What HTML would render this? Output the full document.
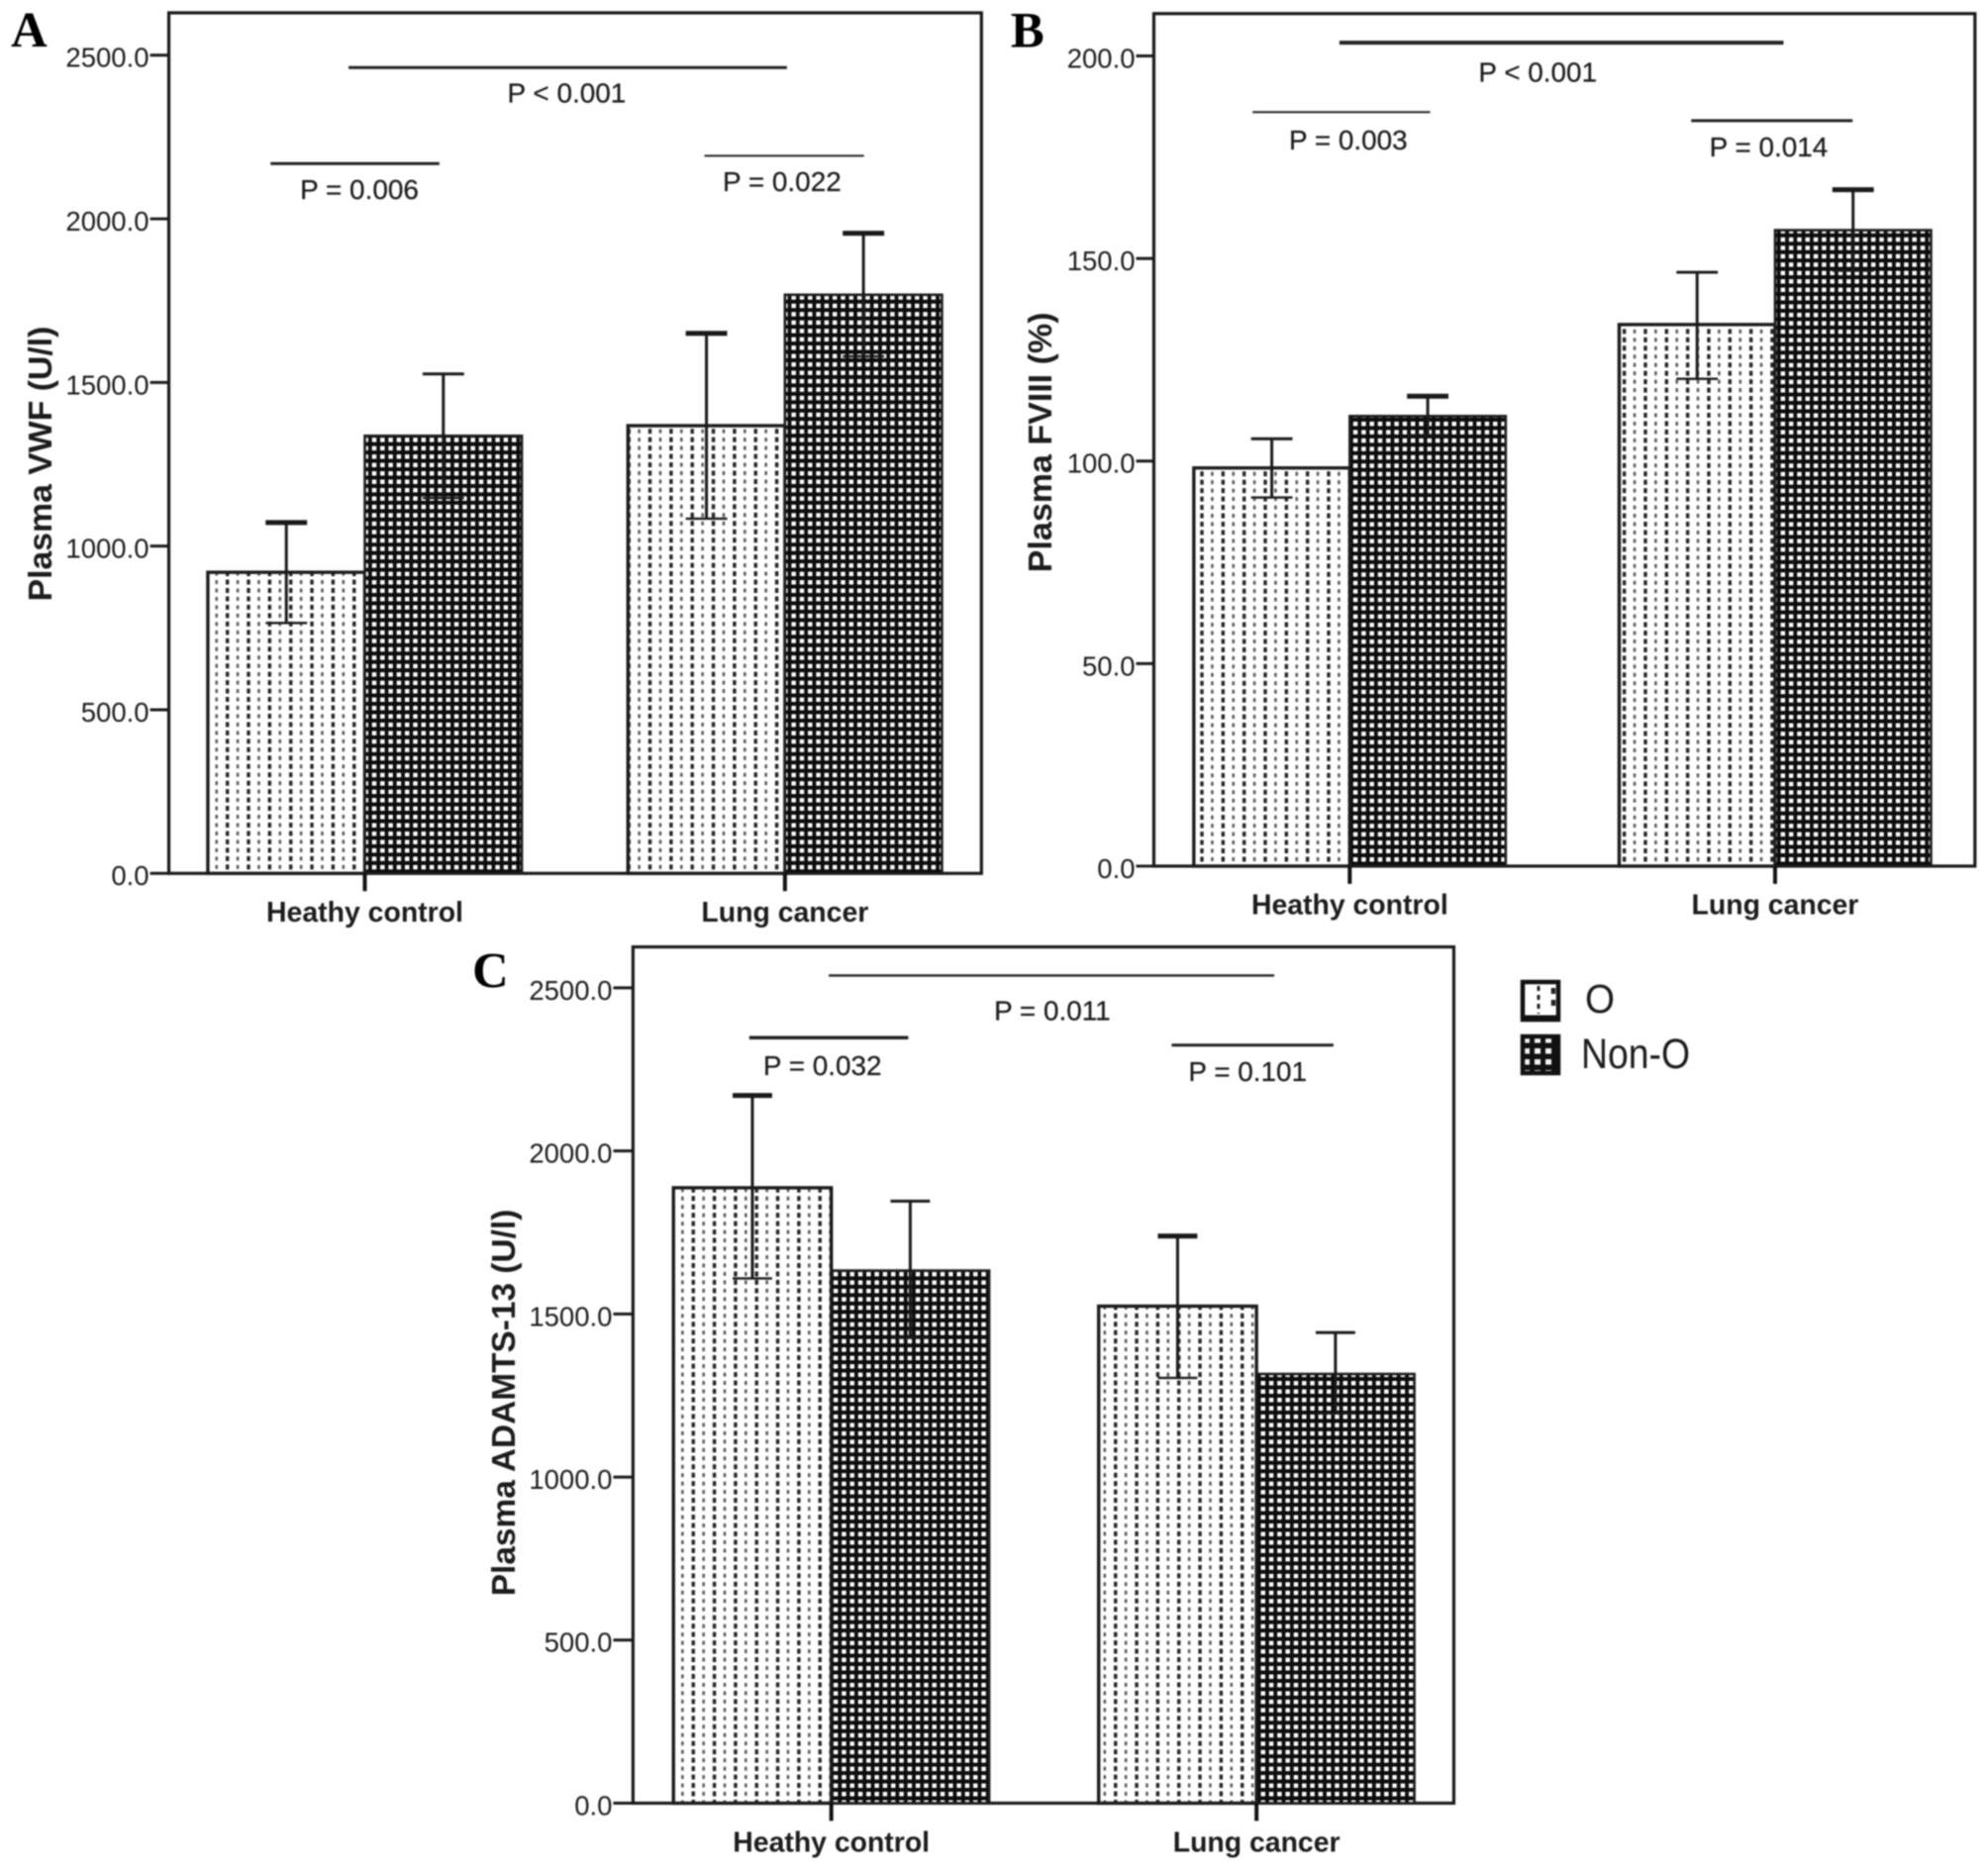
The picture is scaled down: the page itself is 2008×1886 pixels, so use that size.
<!DOCTYPE html>
<html lang="en">
<head>
<meta charset="utf-8">
<title>Plasma VWF, FVIII and ADAMTS-13 by blood group</title>
<style>
html,body{margin:0;padding:0;background:#fff;width:2008px;height:1886px;overflow:hidden}
#figure{display:block;filter:blur(0.8px)}
text{font-family:"Liberation Sans",sans-serif;fill:#1c1c1c}
.tick-label{font-size:27.6px}
.cat-label{font-size:28.5px;font-weight:700}
.y-title{font-size:33px;font-weight:700;text-anchor:middle}
.p-label{font-size:28px;text-anchor:middle;stroke:#1c1c1c;stroke-width:0.25px}
.panel-letter{font-family:"Liberation Serif",serif;font-size:51px;font-weight:700;fill:#000}
.frame{fill:none;stroke:#1a1a1a;stroke-width:3.2}
.sig-line{stroke:#222;stroke-width:3}
</style>
</head>
<body>
<svg id="figure" xmlns="http://www.w3.org/2000/svg" width="2008" height="1886" viewBox="0 0 2008 1886">
  <defs>
    <pattern id="pattern-o" patternUnits="userSpaceOnUse" width="21.4" height="8.5">
      <rect width="21.4" height="8.5" fill="#fff"/>
      <rect x="4.1" y="2" width="2.5" height="4" fill="#555"/>
      <rect x="14.6" y="1.5" width="3.4" height="5" fill="#222"/>
    </pattern>
    <pattern id="pattern-non-o" patternUnits="userSpaceOnUse" width="8.33" height="8.5">
      <rect width="8.33" height="8.5" fill="#0c0c0c"/>
      <rect x="1.9" y="2" width="4.5" height="4.5" fill="#fff"/>
    </pattern>
    <pattern id="pattern-legend-non-o" patternUnits="userSpaceOnUse" width="11" height="11" x="1536" y="1045">
      <rect width="11" height="11" fill="#111"/>
      <rect x="3" y="3" width="6" height="5.5" fill="#f4f4f4"/>
    </pattern>
  </defs>

  <rect width="2008" height="1886" fill="#fff"/>

  <g id="panel-a" transform="matrix(0.9973 0 0 0.9958 0 0)">
    <rect class="frame" x="171" y="13" width="823" height="873"/>
    <text class="panel-letter" x="11" y="47">A</text>
    <text class="y-title" transform="translate(52,470.5) rotate(-90)" textLength="279" lengthAdjust="spacingAndGlyphs">Plasma VWF (U/l)</text>
    <line class="sig-line" x1="353" y1="68.5" x2="797" y2="68.5"/>
    <text class="p-label" x="574" y="104">P &lt; 0.001</text>
    <line class="sig-line" x1="274" y1="166" x2="445" y2="166"/>
    <text class="p-label" x="364" y="202">P = 0.006</text>
    <line class="sig-line" x1="713.5" y1="158" x2="875" y2="158" style="stroke-width:2"/>
    <text class="p-label" x="792" y="194">P = 0.022</text>
  </g>

  <g id="panel-b" transform="matrix(0.9968 0 0 0.9956 3.2 0.8)">
    <rect class="frame" x="1166" y="13" width="832" height="865"/>
    <text class="panel-letter" x="1021" y="47">B</text>
    <text class="y-title" transform="translate(1062,448) rotate(-90)" textLength="264" lengthAdjust="spacingAndGlyphs">Plasma FVIII (%)</text>
    <line class="sig-line" x1="1354" y1="42.5" x2="1804" y2="42.5" style="stroke-width:4"/>
    <text class="p-label" x="1555" y="82">P &lt; 0.001</text>
    <line class="sig-line" x1="1266" y1="113" x2="1446" y2="113" style="stroke-width:2"/>
    <text class="p-label" x="1363" y="151">P = 0.003</text>
    <line class="sig-line" x1="1710.5" y1="121.6" x2="1874" y2="121.6"/>
    <text class="p-label" x="1789" y="158">P = 0.014</text>
  </g>

  <g id="panel-c" transform="matrix(0.9965 0 0 0.9965 1.61 3.9)">
    <rect class="frame" x="640" y="956" width="832" height="868"/>
    <text class="panel-letter" x="477" y="997">C</text>
    <text class="y-title" transform="translate(520,1418) rotate(-90)" textLength="392" lengthAdjust="spacingAndGlyphs">Plasma ADAMTS-13 (U/l)</text>
    <line class="sig-line" x1="838.4" y1="985" x2="1290" y2="985" style="stroke-width:2.4"/>
    <text class="p-label" x="1065" y="1030">P = 0.011</text>
    <line class="sig-line" x1="757.8" y1="1048" x2="919" y2="1048" style="stroke-width:3.6"/>
    <text class="p-label" x="832" y="1086">P = 0.032</text>
    <line class="sig-line" x1="1186" y1="1055.6" x2="1350" y2="1055.6"/>
    <text class="p-label" x="1263" y="1092">P = 0.101</text>
  </g>

  <g id="legend">
    <g>
      <rect x="1538" y="992" width="36" height="38" fill="#fff" stroke="#111" stroke-width="4.5"/>
      <line x1="1536" y1="1028" x2="1576" y2="1028" stroke="#111" stroke-width="5"/>
      <line x1="1554" y1="996" x2="1554" y2="1024" stroke="#222" stroke-width="3" stroke-dasharray="5 4"/>
      <line x1="1569" y1="998" x2="1569" y2="1022" stroke="#222" stroke-width="4.5" stroke-dasharray="6 6"/>
      <text x="1601" y="1023" style="font-size:41px" textLength="30" lengthAdjust="spacingAndGlyphs">O</text>
    </g>
    <g>
      <rect x="1538" y="1047" width="36" height="37" fill="url(#pattern-legend-non-o)" stroke="#111" stroke-width="4.5"/>
      <text x="1597" y="1079" style="font-size:43px" textLength="110" lengthAdjust="spacingAndGlyphs">Non-O</text>
    </g>
  </g>
</svg>

<script>
// Shared categories and series
const categories = ['Heathy control', 'Lung cancer'];
const seriesNames = ['O', 'Non-O'];

// Panel A: plasma VWF (U/l)
const aTicks = [0, 500, 1000, 1500, 2000, 2500];
const aValuesO = [920, 1368];
const aValuesNonO = [1337, 1768];
const aHighO = [1072, 1650];
const aHighNonO = [1526, 1956];
const aLowO = [765, 1084];
const aLowNonO = [1147, 1580];

// Panel B: plasma FVIII (%)
const bTicks = [0, 50, 100, 150, 200];
const bValuesO = [98.3, 133.7];
const bValuesNonO = [111.1, 157];
const bHighO = [105.5, 146.6];
const bHighNonO = [116, 167];
const bLowO = [91, 120.3];
const bLowNonO = [106.4, 147];

// Panel C: plasma ADAMTS-13 (U/l)
const cTicks = [0, 500, 1000, 1500, 2000, 2500];
const cValuesO = [1887, 1524];
const cValuesNonO = [1633, 1316];
const cHighO = [2170, 1739];
const cHighNonO = [1846, 1443];
const cLowO = [1609, 1304];
const cLowNonO = [1428, 1195];

const SVG_NS = 'http://www.w3.org/2000/svg';

function makeEl(parent, tag, attrs) {
  const el = document.createElementNS(SVG_NS, tag);
  for (const key in attrs) el.setAttribute(key, attrs[key]);
  parent.appendChild(el);
  return el;
}

function drawPanel(cfg) {
  const root = document.getElementById('panel-' + cfg.id);
  const yScale = v => cfg.y0 - v * cfg.pxPerUnit;
  const xCenter = i => cfg.c0 + i * cfg.step;

  // y axis ticks and labels
  cfg.ticks.forEach(t => {
    const line = makeEl(root, 'line', {x1: cfg.tickLeft, x2: cfg.frameLeft, y1: yScale(t), y2: yScale(t), stroke: '#1a1a1a', 'stroke-width': 3});
    
    
    const label = makeEl(root, 'text', {x: cfg.tickLeft - 1, y: yScale(t) + 12, 'text-anchor': 'end', class: 'tick-label'});
    label.textContent = t.toFixed(1);
    
    
  });

  // bars, then error bars on top
  categories.forEach((cat, i) => {
    [cfg.o, cfg.nonO].forEach((series, s) => {
      const top = yScale(series.values[i]);
      const x = xCenter(i) + (s === 0 ? -cfg.barWidth : 0);
      const bar = makeEl(root, 'rect', {
        x: x, y: top, width: cfg.barWidth, height: cfg.y0 - top,
        fill: s === 0 ? 'url(#pattern-o)' : 'url(#pattern-non-o)',
        stroke: '#1c1c1c', 'stroke-width': s === 0 ? 3.4 : 2.6
      });
      
      
    });
  });
  categories.forEach((cat, i) => {
    [cfg.o, cfg.nonO].forEach((series, s) => {
      const mid = xCenter(i) + (s === 0 ? -cfg.barWidth / 2 : cfg.barWidth / 2);
      const hi = yScale(series.high[i]);
      const lo = yScale(series.low[i]);
      const heavy = cfg.heavyCaps.includes(i + '-' + s);
      const group = makeEl(root, 'g', {stroke: '#1a1a1a'});
      
      
      makeEl(group, 'line', {x1: mid, x2: mid, y1: hi, y2: lo, 'stroke-width': 3});
      makeEl(group, 'line', {x1: mid - cfg.cap, x2: mid + cfg.cap, y1: hi, y2: hi, 'stroke-width': heavy ? 5 : 3});
      makeEl(group, 'line', {x1: mid - cfg.cap, x2: mid + cfg.cap, y1: lo, y2: lo, 'stroke-width': 2.4});
    });
  });

  // x axis ticks and labels
  categories.forEach((cat, i) => {
    const tick = makeEl(root, 'line', {x1: xCenter(i), x2: xCenter(i), y1: cfg.y0, y2: cfg.y0 + 18, stroke: '#111', 'stroke-width': 4});
    
    
    const label = makeEl(root, 'text', {x: xCenter(i), y: cfg.y0 + 49, 'text-anchor': 'middle', class: 'cat-label'});
    label.textContent = cat;
    
    
  });
}

drawPanel({
  id: 'a', ticks: aTicks, y0: 886, pxPerUnit: 166 / 500, c0: 369.5, step: 425.5, barWidth: 159, cap: 21,
  frameLeft: 171, tickLeft: 152, heavyCaps: ['0-0', '1-0', '1-1'],
  o: {values: aValuesO, high: aHighO, low: aLowO},
  nonO: {values: aValuesNonO, high: aHighNonO, low: aLowNonO}
});
drawPanel({
  id: 'b', ticks: bTicks, y0: 878, pxPerUnit: 205.5 / 50, c0: 1364.5, step: 431, barWidth: 158, cap: 21,
  frameLeft: 1166, tickLeft: 1148, heavyCaps: ['0-1', '1-1'],
  o: {values: bValuesO, high: bHighO, low: bLowO},
  nonO: {values: bValuesNonO, high: bHighNonO, low: bLowNonO}
});
drawPanel({
  id: 'c', ticks: cTicks, y0: 1824, pxPerUnit: 165.3 / 500, c0: 841, step: 431, barWidth: 160, cap: 20,
  frameLeft: 640, tickLeft: 620, heavyCaps: ['0-0', '1-0'],
  o: {values: cValuesO, high: cHighO, low: cLowO},
  nonO: {values: cValuesNonO, high: cHighNonO, low: cLowNonO}
});
</script>
</body>
</html>
